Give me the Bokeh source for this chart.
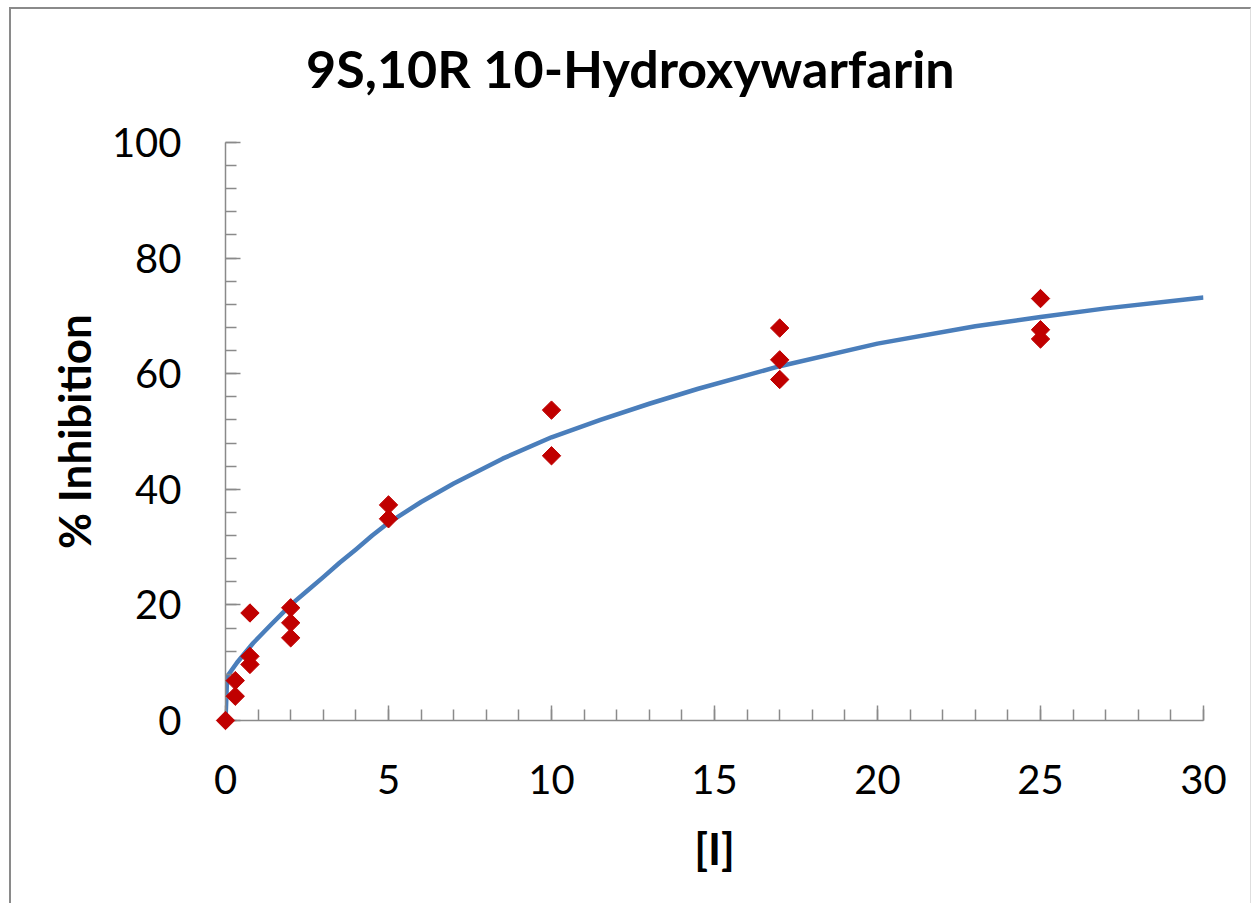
import numpy as np
from bokeh.plotting import figure
from bokeh.models import Range1d, SingleIntervalTicker, ColumnDataSource
from bokeh.core.properties import value
from bokeh.embed import file_html
from bokeh.resources import INLINE

# measured data (concentration [I] vs % inhibition)
conc = [0, 0.3, 0.3, 0.75, 0.75, 0.75, 2, 2, 2, 5, 5, 10, 10, 17, 17, 17, 25, 25, 25]
inhib = [0.0, 6.9, 4.2, 18.6, 11.1, 9.7, 19.5, 16.9, 14.3, 37.3, 34.9, 53.7, 45.8,
         67.9, 62.4, 59.0, 73.0, 67.6, 66.0]

# fitted curve
fit_x = [0, 0.05, 0.35, 0.85, 1.4, 2, 2.5, 3, 3.5, 4, 4.5, 5, 6, 7, 8.5, 10, 11.5, 13, 14.5,
         17, 20, 23, 25, 27, 30]
fit_y = [0, 7.6, 10.0, 13.4, 16.6, 20.0, 22.4, 24.8, 27.3, 29.6, 32.0, 34.2, 37.8, 41.0,
         45.3, 49.0, 52.0, 54.8, 57.4, 61.3, 65.2, 68.2, 69.8, 71.3, 73.2]

title = "9S,10R 10-Hydroxywarfarin"
x_label = "[I]"
y_label = "% Inhibition"

FONT = "Lato"
AXIS_COLOR = "#8a8a8a"

p = figure(width=1242, height=896, output_backend="svg", toolbar_location=None,
           x_range=Range1d(0, 30), y_range=Range1d(0, 100),
           min_border_left=214, min_border_right=50, min_border_top=133, min_border_bottom=185,
           styles={"margin-left": "9px", "margin-top": "7px",
                   "border-left": "2px solid #8a8a8a", "border-top": "2px solid #8a8a8a",
                   "border-right": "1px solid #dedede"})

p.outline_line_color = None
p.grid.visible = False
p.background_fill_color = "white"
p.border_fill_color = "white"

# chart title, centred over the whole chart area (above the plot frame)
p.text(x=[12.42], y=[112.9], text=[title], text_font=value(FONT), text_font_size="52px",
       text_font_style="bold", text_color="black", text_align="center",
       text_baseline="alphabetic", level="overlay")

p.xaxis.ticker = SingleIntervalTicker(interval=5, num_minor_ticks=5)
p.yaxis.ticker = SingleIntervalTicker(interval=20, num_minor_ticks=5)

for ax in (p.xaxis[0], p.yaxis[0]):
    ax.axis_line_color = AXIS_COLOR
    ax.axis_line_width = 1.5
    ax.major_tick_line_color = AXIS_COLOR
    ax.minor_tick_line_color = AXIS_COLOR
    ax.major_tick_line_width = 1.5
    ax.minor_tick_line_width = 1.5
    ax.major_tick_in = 15
    ax.major_tick_out = 0
    ax.minor_tick_in = 11
    ax.minor_tick_out = 0
    ax.major_label_text_font = FONT
    ax.major_label_text_font_size = "40px"
    ax.major_label_text_color = "black"
    ax.major_label_standoff = 44
    ax.axis_label_text_font = FONT
    ax.axis_label_text_font_size = "44px"
    ax.axis_label_text_font_style = "bold"
    ax.axis_label_text_color = "black"

p.xaxis.axis_label = x_label
p.yaxis.axis_label = y_label
p.xaxis.axis_label_standoff = 25
p.yaxis.axis_label_standoff = 9
p.yaxis.major_label_orientation = "horizontal"

p.line(fit_x, fit_y, line_color="#4a7ebb", line_width=4.5, line_join="round")
src = ColumnDataSource(dict(x=conc, y=inhib))
p.scatter("x", "y", source=src, marker="square", angle=np.pi / 4, size=13,
          fill_color="#c00000", line_color="#c00000", level="overlay")

open("out.html", "w").write(file_html(p, INLINE))
